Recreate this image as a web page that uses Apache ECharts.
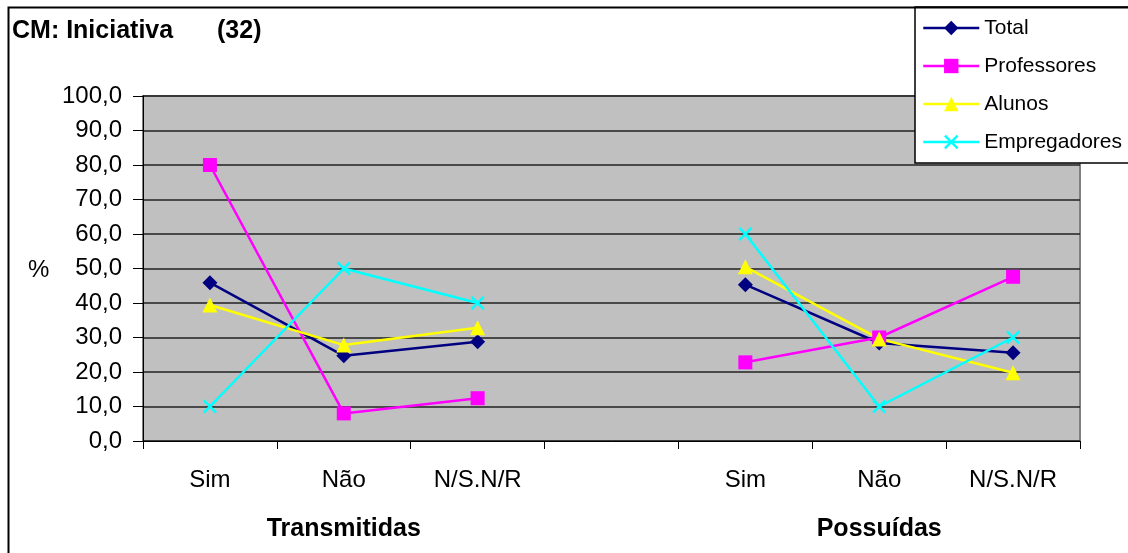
<!DOCTYPE html>
<html>
<head>
<meta charset="utf-8">
<script src="https://cdn.jsdelivr.net/npm/echarts@6/dist/echarts.min.js"></script>
<style>
html,body{margin:0;padding:0;background:#fff;}
#chart{width:1128px;height:553px;}
</style>
</head>
<body>
<div id="chart"></div>
<script>
var categories = ['Sim', 'Não', 'N/S.N/R', '', 'Sim', 'Não', 'N/S.N/R'];
var groupLabels = ['', 'Transmitidas', '', '', '', 'Possuídas', ''];
var seriesNames = ['Total', 'Professores', 'Alunos', 'Empregadores'];
var totalValues = [45.9, 24.7, 28.8, null, 45.3, 28.4, 25.6];
var professoresValues = [80.0, 8.0, 12.4, null, 22.8, 30.0, 47.6];
var alunosValues = [39.4, 27.8, 32.8, null, 50.5, 29.6, 19.8];
var empregadoresValues = [10.0, 50.0, 40.0, null, 60.0, 10.0, 30.0];
var yTicks = { min: 0, max: 100, interval: 10 };
var titleText = 'CM: Iniciativa';
var titleCount = '(32)';
var yAxisName = '%';

var FONT = '"Liberation Sans", Arial, sans-serif';
var crossPath = 'path://M0,1.2 L1.2,0 L5,3.8 L8.8,0 L10,1.2 L6.2,5 L10,8.8 L8.8,10 L5,6.2 L1.2,10 L0,8.8 L3.8,5 Z';

function mkSeries(name, data, color, symbol, size) {
  return {
    name: name, type: 'line', data: data, symbol: symbol, symbolSize: size,
    connectNulls: false, showSymbol: true,
    lineStyle: { color: color, width: 2.5 },
    itemStyle: { color: color, borderWidth: 0 },
    emphasis: { disabled: true },
    animation: false
  };
}

var chart = echarts.init(document.getElementById('chart'), null, { renderer: 'canvas' });
chart.setOption({
  animation: false,
  backgroundColor: '#ffffff',
  textStyle: { fontFamily: FONT },
  grid: {
    left: 143, right: 48, top: 96, bottom: 112,
    show: true, backgroundColor: '#c0c0c0', borderColor: '#808080', borderWidth: 2
  },
  legend: {
    orient: 'vertical', left: 915, top: 7,
    data: seriesNames,
    backgroundColor: '#ffffff', borderColor: '#000000', borderWidth: 1.5,
    padding: [10, 8, 10, 7],
    itemWidth: 56, itemHeight: 18, itemGap: 16,
    lineStyle: { width: 2.5 },
    textStyle: { fontFamily: FONT, fontSize: 21, color: '#000', lineHeight: 22 },
    selectedMode: false
  },
  xAxis: [{
    type: 'category', data: categories, boundaryGap: true,
    axisLine: { show: true, lineStyle: { color: '#000', width: 1 } },
    axisTick: { show: true, interval: 0, length: 8, lineStyle: { color: '#000' } },
    axisLabel: { interval: 0, margin: 27, fontSize: 24, color: '#000', fontFamily: FONT },
    splitLine: { show: false }
  }, {
    type: 'category', data: groupLabels, boundaryGap: true, position: 'bottom',
    axisLine: { show: false }, axisTick: { show: false },
    axisLabel: { interval: 0, margin: 76, fontSize: 25, fontWeight: 'bold', color: '#000', fontFamily: FONT },
    splitLine: { show: false }
  }],
  yAxis: {
    type: 'value', min: yTicks.min, max: yTicks.max, interval: yTicks.interval,
    axisLine: { show: true, lineStyle: { color: '#000', width: 1 } },
    axisTick: { show: true, length: 10, lineStyle: { color: '#000' } },
    axisLabel: {
      margin: 21, fontSize: 24, color: '#000', fontFamily: FONT,
      formatter: function (v) { return v.toFixed(1).replace('.', ','); }
    },
    splitLine: { show: true, lineStyle: { color: '#222', width: 1.5 } }
  },
  series: [
    mkSeries(seriesNames[0], totalValues, '#000080', 'diamond', 15),
    mkSeries(seriesNames[1], professoresValues, '#ff00ff', 'rect', 14),
    mkSeries(seriesNames[2], alunosValues, '#ffff00', 'triangle', 15),
    mkSeries(seriesNames[3], empregadoresValues, '#00ffff', crossPath, 14)
  ],
  graphic: [
    { type: 'rect', left: 6, top: 5, shape: { x: 0, y: 0, width: 1300, height: 1300 },
      style: { fill: 'none', stroke: '#000', lineWidth: 2 }, silent: true, z: 100 },
    { type: 'text', left: 12, top: 19, style: { text: titleText, font: 'bold 25px ' + FONT, fill: '#000' } },
    { type: 'text', left: 217, top: 19, style: { text: titleCount, font: 'bold 25px ' + FONT, fill: '#000' } },
    { type: 'text', left: 28, top: 258, style: { text: yAxisName, font: '24px ' + FONT, fill: '#000' } }
  ]
});
</script>
</body>
</html>
